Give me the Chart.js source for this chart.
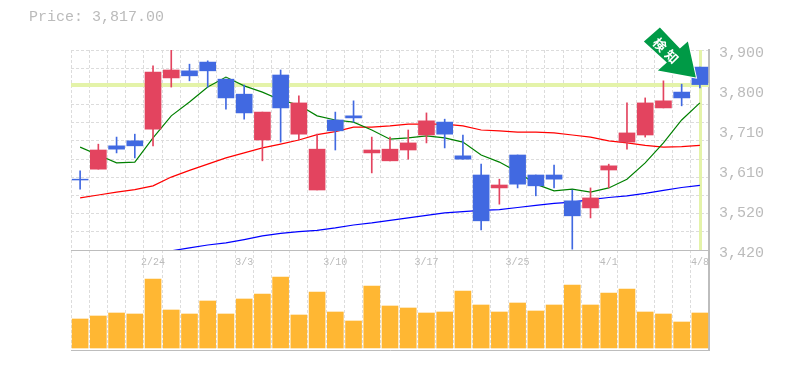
<!DOCTYPE html>
<html>
<head>
<meta charset="utf-8">
<script src="https://cdn.jsdelivr.net/npm/chart.js@4/dist/chart.umd.min.js"></script>
<style>
  html, body { margin: 0; padding: 0; background: #fff; }
  #wrap { position: relative; width: 785px; height: 370px; overflow: hidden; }
  #price { position: absolute; left: 29px; top: 9px; font: 15px "Liberation Mono", monospace; color: #bbb; }
  canvas { display: block; }
</style>
</head>
<body>
<div id="wrap">
  <div id="price">Price: 3,817.00</div>
  <canvas id="chart" width="785" height="370"></canvas>
</div>
<script>
const days = ["2/18","2/19","2/20","2/21","2/24","2/25","2/26","2/27","2/28","3/3","3/4","3/5","3/6","3/7","3/10","3/11","3/12","3/13","3/14","3/17","3/18","3/19","3/21","3/24","3/25","3/26","3/27","3/28","3/31","4/1","4/2","4/3","4/4","4/7","4/8"];
const labelledDays = ["2/24","3/3","3/10","3/17","3/25","4/1","4/8"];

const open  = [3590,3614,3670,3682,3710,3833,3850,3871,3830,3794,3684,3840,3698,3564,3732,3742,3653,3634,3660,3696,3727,3646,3600,3569,3648,3600,3600,3538,3521,3612,3679,3696,3761,3799,3859];
const close = [3588,3660,3662,3670,3847,3852,3838,3850,3785,3749,3751,3761,3773,3662,3706,3737,3660,3662,3677,3730,3698,3638,3490,3576,3578,3574,3590,3502,3545,3622,3701,3773,3778,3785,3817];
const high  = [3610,3674,3691,3698,3862,3900,3866,3874,3830,3816,3751,3852,3790,3698,3751,3778,3691,3691,3708,3749,3734,3696,3626,3590,3648,3600,3624,3564,3569,3626,3773,3785,3826,3818,3859];
const low   = [3566,3614,3653,3641,3670,3811,3826,3811,3758,3734,3634,3679,3684,3564,3660,3727,3605,3634,3638,3677,3665,3638,3468,3530,3569,3550,3569,3422,3497,3569,3662,3691,3761,3766,3809];

const maShort = [3667,3648,3629,3631,3689,3742,3775,3811,3835,3814,3799,3780,3768,3742,3732,3727,3708,3686,3689,3694,3689,3679,3648,3631,3607,3578,3562,3566,3559,3569,3590,3629,3677,3732,3773];
const maMid   = [3545,3552,3559,3565,3574,3595,3611,3626,3641,3653,3665,3674,3684,3697,3704,3715,3715,3718,3722,3722,3722,3718,3708,3706,3703,3703,3701,3696,3691,3682,3677,3671,3667,3668,3671];
const maLong  = [null,null,null,null,null,3418,3425,3432,3437,3445,3454,3460,3464,3467,3473,3480,3485,3491,3497,3503,3509,3512,3515,3517,3522,3527,3532,3535,3541,3546,3550,3556,3563,3570,3575];

const volume = [290,320,350,340,690,380,340,470,340,490,540,710,330,560,360,270,620,420,400,350,360,570,430,360,450,370,430,630,430,550,590,360,340,260,350];

const priceTicks = [3420,3516,3612,3708,3804,3900];
const priceTickLabels = ["3,420","3,520","3,610","3,710","3,800","3,900"];
const lastPrice = 3817;
const priceMin = 3420, priceMax = 3900;

const RED = "#e3445f", BLUE = "#4169e1", ORANGE = "#ffb733", BAND = "#e4f3a9", GRID = "#dcdcdc", FRAME = "#bdbdbd", TEXT = "#bbb";
const candleColor = open.map((o, i) => close[i] > o ? RED : BLUE);

// 11 grid bands on the price panel, not lined up with the labels
const gridStep = (priceMax - priceMin) / 11;
const gridTicks = [];
for (let k = 0; k <= 11; k++) gridTicks.push(priceMin + k * gridStep);

const bandPlugin = {
  id: "bands",
  beforeDatasetsDraw(chart) {
    const { ctx, chartArea, scales } = chart;
    const y = scales.y, x = scales.x;
    ctx.save();
    ctx.strokeStyle = FRAME;
    ctx.lineWidth = 1;
    ctx.beginPath();
    ctx.moveTo(chartArea.left, Math.round(y.bottom) + 0.5);
    ctx.lineTo(chartArea.right + 1, Math.round(y.bottom) + 0.5);
    ctx.stroke();
    ctx.fillStyle = BAND;
    ctx.fillRect(chartArea.left, Math.round(y.getPixelForValue(lastPrice)) - 2, chartArea.right - chartArea.left, 4);
    ctx.fillRect(Math.round(x.getPixelForValue(days[days.length - 1])) - 1, y.top, 3, y.bottom - y.top);
    // date labels sit inside the volume panel
    ctx.fillStyle = TEXT;
    ctx.font = '10px "Liberation Mono", monospace';
    ctx.textAlign = "center";
    ctx.textBaseline = "middle";
    labelledDays.forEach((d) => ctx.fillText(d, x.getPixelForValue(d), y.bottom + 12));
    ctx.restore();
  }
};

const arrowPlugin = {
  id: "arrow",
  afterDatasetsDraw(chart) {
    const { ctx, scales } = chart;
    const last = days.length - 1;
    const tipX = scales.x.getPixelForValue(days[last]) - 4;
    const tipY = scales.y.getPixelForValue(close[last]) - 7;
    ctx.save();
    ctx.translate(tipX, tipY);
    ctx.beginPath();
    ctx.moveTo(0, 0);
    ctx.lineTo(-38, -7);
    ctx.lineTo(-29, -15);
    ctx.lineTo(-52, -36);
    ctx.lineTo(-36, -50);
    ctx.lineTo(-16, -29);
    ctx.lineTo(-8, -36);
    ctx.closePath();
    ctx.lineWidth = 2;
    ctx.strokeStyle = "#fff";
    ctx.stroke();
    ctx.fillStyle = "#009a46";
    ctx.fill();
    ctx.fillStyle = "#fff";
    ctx.font = 'bold 13px "Noto Sans CJK JP"';
    ctx.textAlign = "center";
    ctx.textBaseline = "middle";
    [["検", -36, -33], ["知", -24, -21]].forEach(([ch, dx, dy]) => {
      ctx.save();
      ctx.translate(dx, dy);
      ctx.rotate(Math.PI / 4);
      ctx.fillText(ch, 0, 0);
      ctx.restore();
    });
    ctx.restore();
  }
};

new Chart(document.getElementById("chart"), {
  data: {
    labels: days,
    datasets: [
      {
        type: "bar", label: "body", yAxisID: "y", grouped: false, barThickness: 16,
        data: open.map((o, i) => [o, close[i]]), backgroundColor: candleColor, borderWidth: 0,
      },
      {
        type: "bar", label: "wick", yAxisID: "y", grouped: false, barThickness: 1,
        data: low.map((l, i) => [l, high[i]]), backgroundColor: candleColor, borderWidth: 0,
      },
      { type: "line", label: "short", yAxisID: "y", data: maShort, borderColor: "#008000", borderWidth: 1.2, pointRadius: 0, tension: 0 },
      { type: "line", label: "mid", yAxisID: "y", data: maMid, borderColor: "#ff0000", borderWidth: 1.2, pointRadius: 0, tension: 0 },
      { type: "line", label: "long", yAxisID: "y", data: maLong, borderColor: "#0000ff", borderWidth: 1.2, pointRadius: 0, tension: 0 },
      {
        type: "bar", label: "volume", yAxisID: "vol", grouped: false, barThickness: 16,
        data: volume, backgroundColor: ORANGE, borderWidth: 0,
      },
    ],
  },
  options: {
    responsive: false,
    animation: false,
    devicePixelRatio: 1,
    layout: { padding: { left: 71, top: 50, right: 0, bottom: 0 } },
    plugins: { legend: { display: false }, tooltip: { enabled: false }, title: { display: false } },
    scales: {
      x: {
        type: "category",
        offset: true,
        afterFit(s) { s.height = 20; },
        grid: { offset: true, color: GRID, drawTicks: false },
        border: { color: FRAME, dash: [3, 2], width: 1 },
        ticks: { display: false },
      },
      y: {
        position: "right",
        stack: "panels",
        stackWeight: 2,
        min: priceMin,
        max: priceMax,
        afterFit(s) { s.width = 76; },
        afterBuildTicks(s) {
          const all = gridTicks.concat(priceTicks.slice(1, -1)).sort((a, b) => a - b);
          s.ticks = all.map((value) => ({ value }));
        },
        grid: {
          drawTicks: false,
          color(c) {
            return c.tick && gridTicks.includes(c.tick.value) ? GRID : "transparent";
          },
        },
        border: { color: FRAME, width: 2, dash: [3, 2] },
        ticks: {
          autoSkip: false,
          padding: 10,
          labelOffset: 3,
          color: TEXT,
          font: { family: '"Liberation Mono", monospace', size: 15 },
          callback(v) {
            const at = priceTicks.findIndex((p) => Math.abs(p - v) < 0.01);
            return at < 0 ? "" : priceTickLabels[at];
          },
        },
      },
      vol: {
        position: "right",
        stack: "panels",
        stackWeight: 1,
        min: -20,
        max: 980,
        afterFit(s) { s.width = 76; },
        grid: { display: false },
        border: { color: FRAME, width: 2 },
        ticks: { display: false },
      },
    },
  },
  plugins: [bandPlugin, arrowPlugin],
});
</script>
</body>
</html>
